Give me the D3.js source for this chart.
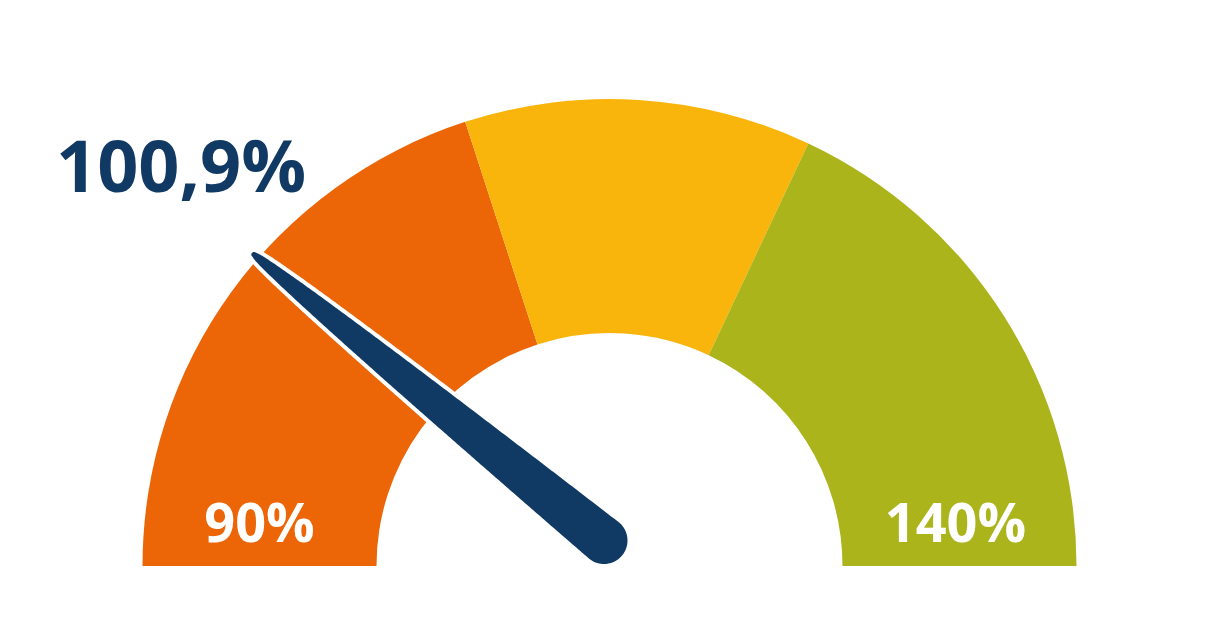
<!DOCTYPE html>
<html>
<head>
<meta charset="utf-8">
<script src="https://cdn.jsdelivr.net/npm/d3@7"></script>
<style>
  html, body { margin: 0; padding: 0; background: #ffffff; }
  svg { display: block; }
  text { font-family: "Open Sans", "Noto Sans", sans-serif; font-weight: 700; }
</style>
</head>
<body>
<svg id="chart" width="1218" height="640"></svg>
<script>
// ---- data ----
const scaleMin = 90;
const scaleMax = 140;
const bandStarts = [90, 110, 122];
const bandEnds = [110, 122, 140];
const currentValue = 100.9;
const valueLabel = "100,9%";
const minLabel = "90%";
const maxLabel = "140%";

// ---- styles ----
const bandColors = ["#EC6608", "#F9B50B", "#ABB41A"];
const needleColor = "#103A63";

const cx = 609.5, cy = 566;
const rInner = 233, rOuter = 467;

const svg = d3.select("#chart");

const angle = d3.scaleLinear().domain([scaleMin, scaleMax]).range([-Math.PI / 2, Math.PI / 2]);
const arc = d3.arc().innerRadius(rInner).outerRadius(rOuter);

const g = svg.append("g").attr("transform", `translate(${cx},${cy})`);

g.selectAll("path.band")
  .data(bandStarts.map((s, i) => ({ s, e: bandEnds[i], c: bandColors[i] })))
  .join("path")
  .attr("class", "band")
  .attr("d", d => arc({ startAngle: angle(d.s), endAngle: angle(d.e) }))
  .attr("fill", d => d.c);

// range labels
const labelR = (rInner + rOuter) / 2;
g.append("text")
  .attr("x", Math.sin(angle(scaleMin)) * labelR)
  .attr("y", -24)
  .attr("text-anchor", "middle")
  .attr("font-size", 54)
  .attr("fill", "#ffffff")
  .text(minLabel);
g.append("text")
  .attr("x", Math.sin(angle(scaleMax)) * labelR - 4)
  .attr("y", -24)
  .attr("text-anchor", "middle")
  .attr("font-size", 54)
  .attr("fill", "#ffffff")
  .text(maxLabel);

// needle (teardrop shape)
const a = angle(currentValue);
const ux = Math.sin(a), uy = -Math.cos(a);   // toward tip
const nx = -uy, ny = ux;                      // normal
const px = -5.5, py = -25.5;                  // pivot offset from gauge centre
const baseR = 23.5, tipR = 2.6, len = 452, taper = 0.62;

function halfWidth(d) {
  const t = Math.min(1, Math.max(0, d / len));
  return tipR + (baseR - tipR) * Math.pow(1 - t, taper);
}

function needlePoints(extra) {
  const N = 160;
  const pts = [];
  // base semicircle: from -n through -u to +n
  const R1 = baseR + extra;
  for (let i = 0; i <= 40; i++) {
    const phi = -Math.PI / 2 + Math.PI * i / 40;
    const c = Math.cos(phi), s = Math.sin(phi);
    pts.push([px + R1 * (-c * ux + s * nx), py + R1 * (-c * uy + s * ny)]);
  }
  // left (+n) side from base to tip
  for (let i = 1; i <= N; i++) {
    const d = len * i / N, w = halfWidth(d) + extra;
    pts.push([px + ux * d + nx * w, py + uy * d + ny * w]);
  }
  // tip semicircle: from +n through +u to -n
  const R2 = tipR + extra;
  const tx = px + ux * len, ty = py + uy * len;
  for (let i = 1; i < 20; i++) {
    const phi = Math.PI / 2 - Math.PI * i / 20;
    const c = Math.cos(phi), s = Math.sin(phi);
    pts.push([tx + R2 * (c * ux + s * nx), ty + R2 * (c * uy + s * ny)]);
  }
  // right (-n) side from tip back to base
  for (let i = N; i >= 1; i--) {
    const d = len * i / N, w = halfWidth(d) + extra;
    pts.push([px + ux * d - nx * w, py + uy * d - ny * w]);
  }
  return pts;
}

const line = d3.line().curve(d3.curveLinearClosed);
g.append("path").attr("d", line(needlePoints(4))).attr("fill", "#ffffff");
g.append("path").attr("d", line(needlePoints(0))).attr("fill", needleColor);

// value label
svg.append("text")
  .attr("x", 56)
  .attr("y", 192)
  .attr("text-anchor", "start")
  .attr("font-size", 72)
  .attr("fill", needleColor)
  .text(valueLabel);
</script>
</body>
</html>
